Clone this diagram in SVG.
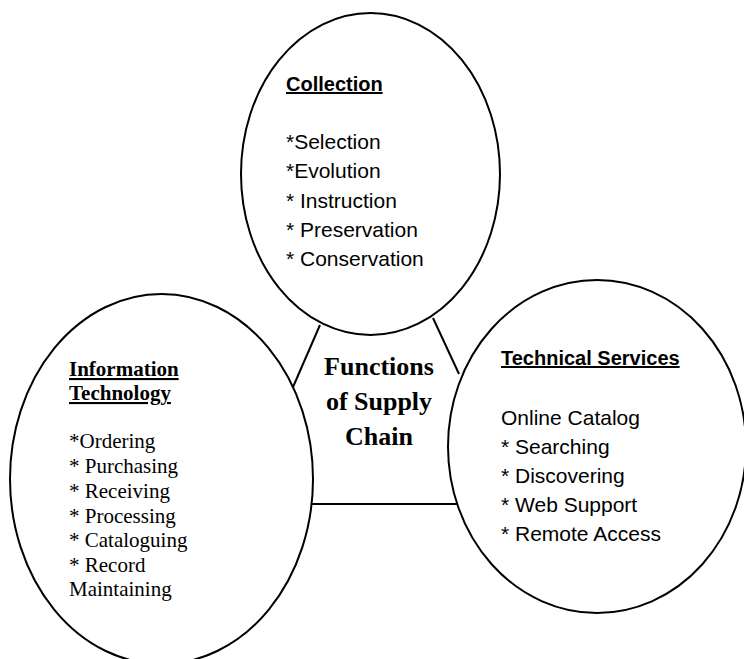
<svg xmlns="http://www.w3.org/2000/svg" width="744" height="659" viewBox="0 0 744 659">
<style>
.bubble{fill:#fff;stroke:#000;stroke-width:2}
.conn{stroke:#000;stroke-width:2;fill:none}
.sans{font-family:"Liberation Sans",Arial,sans-serif;font-size:21px;fill:#000}
.sansb{font-family:"Liberation Sans",Arial,sans-serif;font-size:20px;font-weight:bold;fill:#000;text-decoration:underline}
.serif{font-family:"Liberation Serif","Times New Roman",serif;font-size:21px;fill:#000}
.serifb{font-family:"Liberation Serif","Times New Roman",serif;font-size:21px;font-weight:bold;fill:#000;text-decoration:underline}
.title{font-family:"Liberation Serif","Times New Roman",serif;font-size:26px;font-weight:bold;fill:#000;text-anchor:middle}
</style>
<rect width="744" height="659" fill="#fff"/>
<g id="connectors">
<line class="conn" x1="320" y1="325" x2="293" y2="387"/>
<line class="conn" x1="433" y1="318" x2="459" y2="374"/>
<line class="conn" x1="311" y1="504" x2="457" y2="504"/>
</g>
<g id="collection">
<ellipse class="bubble" cx="370.5" cy="174" rx="129.5" ry="161"/>
<text class="sansb" x="286" y="91">Collection</text>
<text class="sans" x="286" y="149">*Selection</text>
<text class="sans" x="286" y="178">*Evolution</text>
<text class="sans" x="286" y="208">* Instruction</text>
<text class="sans" x="286" y="237">* Preservation</text>
<text class="sans" x="286" y="266">* Conservation</text>
</g>
<g id="information-technology">
<ellipse class="bubble" cx="161.5" cy="479" rx="151.5" ry="185"/>
<text class="serifb" x="69" y="376">Information</text>
<text class="serifb" x="69" y="400">Technology</text>
<text class="serif" x="69" y="448">*Ordering</text>
<text class="serif" x="69" y="473">* Purchasing</text>
<text class="serif" x="69" y="498">* Receiving</text>
<text class="serif" x="69" y="523">* Processing</text>
<text class="serif" x="69" y="547">* Cataloguing</text>
<text class="serif" x="69" y="572">* Record</text>
<text class="serif" x="69" y="596">Maintaining</text>
</g>
<g id="technical-services">
<ellipse class="bubble" cx="597" cy="446.5" rx="149" ry="166.5"/>
<text class="sansb" x="501" y="365">Technical Services</text>
<text class="sans" x="501" y="425">Online Catalog</text>
<text class="sans" x="501" y="454">* Searching</text>
<text class="sans" x="501" y="483">* Discovering</text>
<text class="sans" x="501" y="512">* Web Support</text>
<text class="sans" x="501" y="541">* Remote Access</text>
</g>
<g id="functions-of-supply-chain">
<text class="title" x="379" y="375">Functions</text>
<text class="title" x="379" y="410">of Supply</text>
<text class="title" x="379" y="445">Chain</text>
</g>
</svg>
